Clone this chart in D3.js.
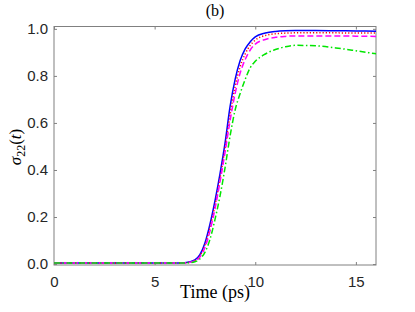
<!DOCTYPE html>
<html>
<head>
<meta charset="utf-8">
<script src="https://cdn.jsdelivr.net/npm/d3@7"></script>
<style>
  body { margin: 0; background: #fff; }
  svg { display: block; }
</style>
</head>
<body>
<div id="chart"></div>
<script>
// time axis (ps) and the four sigma_22 curves
const time = [0, 6, 6.5, 7, 7.25, 7.5, 7.75, 8, 8.25, 8.5, 8.75, 9, 9.25, 9.5, 9.75, 10, 10.5, 11, 11.5, 12, 13, 14, 15, 16]
const blueVals = [0.004, 0.004, 0.006, 0.018, 0.04, 0.09, 0.17, 0.27, 0.385, 0.515, 0.67, 0.785, 0.865, 0.915, 0.945, 0.966, 0.982, 0.989, 0.992, 0.993, 0.993, 0.992, 0.991, 0.99]
const redVals = [0.004, 0.004, 0.005, 0.015, 0.035, 0.08, 0.155, 0.25, 0.365, 0.495, 0.635, 0.755, 0.84, 0.893, 0.93, 0.952, 0.972, 0.979, 0.982, 0.983, 0.983, 0.983, 0.982, 0.982]
const magentaVals = [0.004, 0.004, 0.005, 0.013, 0.03, 0.07, 0.14, 0.235, 0.35, 0.475, 0.61, 0.725, 0.812, 0.87, 0.91, 0.935, 0.955, 0.964, 0.968, 0.97, 0.97, 0.97, 0.969, 0.968]
const greenVals = [0.004, 0.004, 0.004, 0.01, 0.022, 0.05, 0.105, 0.19, 0.29, 0.41, 0.545, 0.655, 0.725, 0.785, 0.835, 0.862, 0.893, 0.912, 0.924, 0.93, 0.928, 0.919, 0.907, 0.894]
const xTicks = [0, 5, 10, 15]
const yTicks = [0, 0.2, 0.4, 0.6, 0.8, 1.0]

const series = [
  {name: 'blue', values: blueVals, color: '#0000ff', dash: null},
  {name: 'red', values: redVals, color: '#ff0000', dash: '1.2,2'},
  {name: 'magenta', values: magentaVals, color: '#ff00ff', dash: '6,3'},
  {name: 'green', values: greenVals, color: '#00e600', dash: '6,2.5,1.5,2.5'}
]

const width = 415
const height = 312
const margin = {top: 26.5, right: 39, bottom: 47, left: 54}
const innerWidth = width - margin.left - margin.right
const innerHeight = height - margin.top - margin.bottom

const svg = d3.select('#chart')
  .append('svg')
  .attr('width', width)
  .attr('height', height)

const g = svg.append('g')
  .attr('transform', `translate(${margin.left},${margin.top})`)

const xScale = d3.scaleLinear().domain([0, 16]).range([0, innerWidth])
const yScale = d3.scaleLinear().domain([-0.004, 1.01]).range([innerHeight, 0])

const axisColor = '#808080'
const tickFont = '"Liberation Sans", Arial, sans-serif'

// frame + inward ticks on all sides
const styleAxis = sel => {
  sel.select('.domain').remove()
  sel.selectAll('.tick line').attr('stroke', axisColor)
  sel.selectAll('.tick text')
    .attr('fill', '#262626')
    .style('font-family', tickFont)
    .style('font-size', '15px')
}
const noLabels = sel => sel.selectAll('.tick text').remove()

g.append('g')
  .attr('transform', `translate(0,${innerHeight})`)
  .call(d3.axisBottom(xScale).tickValues(xTicks).tickSizeInner(-3).tickSizeOuter(0).tickPadding(11).tickFormat(d3.format('d')))
  .call(styleAxis)

g.append('g')
  .call(d3.axisTop(xScale).tickValues(xTicks).tickSizeInner(-3).tickSizeOuter(0))
  .call(styleAxis)
  .call(noLabels)

g.append('g')
  .call(d3.axisLeft(yScale).tickValues(yTicks).tickSizeInner(-3).tickSizeOuter(0).tickPadding(6).tickFormat(d3.format('.1f')))
  .call(styleAxis)

g.append('g')
  .attr('transform', `translate(${innerWidth},0)`)
  .call(d3.axisRight(yScale).tickValues(yTicks).tickSizeInner(-3).tickSizeOuter(0))
  .call(styleAxis)
  .call(noLabels)

g.append('rect')
  .attr('x', 0)
  .attr('y', 0)
  .attr('width', innerWidth)
  .attr('height', innerHeight)
  .attr('fill', 'none')
  .attr('stroke', axisColor)
  .attr('stroke-width', 1)

const line = d3.line()
  .x((d, i) => xScale(time[i]))
  .y(d => yScale(d))
  .curve(d3.curveMonotoneX)

g.selectAll('.curve')
  .data(series)
  .enter()
  .append('path')
  .attr('class', 'curve')
  .attr('d', s => line(s.values))
  .attr('fill', 'none')
  .attr('stroke', s => s.color)
  .attr('stroke-width', 1.5)
  .attr('stroke-dasharray', s => s.dash)

const serif = '"Liberation Serif", "DejaVu Serif", serif'

svg.append('text')
  .attr('x', margin.left + innerWidth / 2)
  .attr('y', 16)
  .attr('text-anchor', 'middle')
  .style('font-family', serif)
  .style('font-size', '16px')
  .text('(b)')

svg.append('text')
  .attr('x', margin.left + innerWidth / 2)
  .attr('y', 298)
  .attr('text-anchor', 'middle')
  .style('font-family', serif)
  .style('font-size', '18px')
  .text('Time (ps)')

const yLab = svg.append('text')
  .attr('transform', `translate(21,147) rotate(-90)`)
  .attr('text-anchor', 'middle')
  .style('font-family', serif)
  .style('font-size', '17px')
yLab.append('tspan').style('font-style', 'italic').text('σ')
yLab.append('tspan').attr('dy', 4).style('font-size', '12px').text('22')
yLab.append('tspan').attr('dy', -4).text('(')
yLab.append('tspan').style('font-style', 'italic').text('t')
yLab.append('tspan').text(')')
</script>
</body>
</html>
